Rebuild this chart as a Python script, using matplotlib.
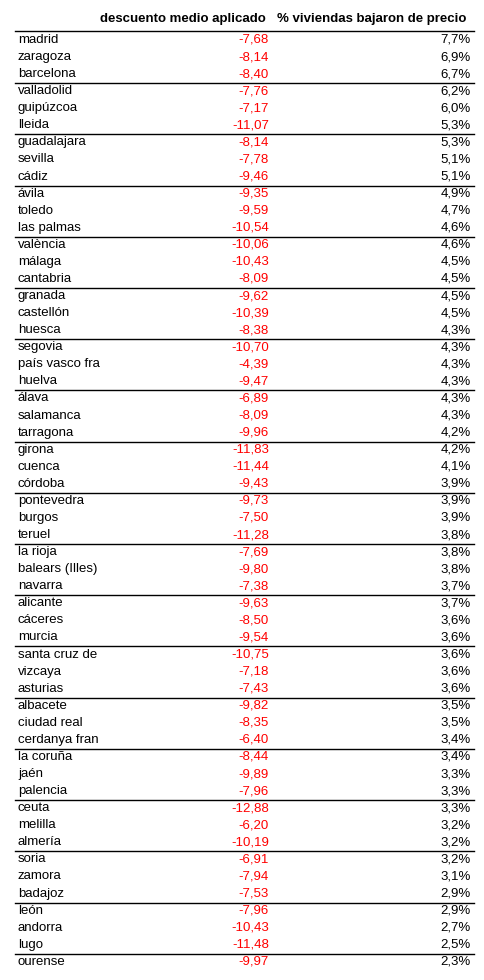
import matplotlib
matplotlib.use('Agg')
from matplotlib import pyplot as plt
from matplotlib.lines import Line2D

plt.rc('font', family='Liberation Sans')

provincias = ['madrid', 'zaragoza', 'barcelona', 'valladolid', 'guipúzcoa', 'lleida',
              'guadalajara', 'sevilla', 'cádiz', 'ávila', 'toledo', 'las palmas',
              'valència', 'málaga', 'cantabria', 'granada', 'castellón', 'huesca',
              'segovia', 'país vasco fra', 'huelva', 'álava', 'salamanca', 'tarragona',
              'girona', 'cuenca', 'córdoba', 'pontevedra', 'burgos', 'teruel',
              'la rioja', 'balears (Illes)', 'navarra', 'alicante', 'cáceres', 'murcia',
              'santa cruz de', 'vizcaya', 'asturias', 'albacete', 'ciudad real', 'cerdanya fran',
              'la coruña', 'jaén', 'palencia', 'ceuta', 'melilla', 'almería',
              'soria', 'zamora', 'badajoz', 'león', 'andorra', 'lugo', 'ourense']
descuento = ['-7,68', '-8,14', '-8,40', '-7,76', '-7,17', '-11,07',
             '-8,14', '-7,78', '-9,46', '-9,35', '-9,59', '-10,54',
             '-10,06', '-10,43', '-8,09', '-9,62', '-10,39', '-8,38',
             '-10,70', '-4,39', '-9,47', '-6,89', '-8,09', '-9,96',
             '-11,83', '-11,44', '-9,43', '-9,73', '-7,50', '-11,28',
             '-7,69', '-9,80', '-7,38', '-9,63', '-8,50', '-9,54',
             '-10,75', '-7,18', '-7,43', '-9,82', '-8,35', '-6,40',
             '-8,44', '-9,89', '-7,96', '-12,88', '-6,20', '-10,19',
             '-6,91', '-7,94', '-7,53', '-7,96', '-10,43', '-11,48', '-9,97']
bajaron = ['7,7%', '6,9%', '6,7%', '6,2%', '6,0%', '5,3%',
           '5,3%', '5,1%', '5,1%', '4,9%', '4,7%', '4,6%',
           '4,6%', '4,5%', '4,5%', '4,5%', '4,5%', '4,3%',
           '4,3%', '4,3%', '4,3%', '4,3%', '4,3%', '4,2%',
           '4,2%', '4,1%', '3,9%', '3,9%', '3,9%', '3,8%',
           '3,8%', '3,8%', '3,7%', '3,7%', '3,6%', '3,6%',
           '3,6%', '3,6%', '3,6%', '3,5%', '3,5%', '3,4%',
           '3,4%', '3,3%', '3,3%', '3,3%', '3,2%', '3,2%',
           '3,2%', '3,1%', '2,9%', '2,9%', '2,7%', '2,5%', '2,3%']
cabecera = ['descuento medio aplicado', '% viviendas bajaron de precio']

W, H = 485, 980
fig = plt.figure(figsize=(W / 100, H / 100), dpi=100)
ax = fig.add_axes([0, 0, 1, 1])
ax.set_xlim(0, W)
ax.set_ylim(H, 0)
ax.axis('off')

fs = 9.5
ax.text(266, 19, cabecera[0], ha='right', va='center', fontsize=fs, fontweight='bold')
ax.text(466, 19, cabecera[1], ha='right', va='center', fontsize=fs, fontweight='bold')
ax.add_line(Line2D([15, 474], [31, 31], color='black', lw=1))

y0, dy = 40, 17.07
for i, (p, d, b) in enumerate(zip(provincias, descuento, bajaron)):
    y = y0 + i * dy
    ax.text(18, y, p, ha='left', va='center', fontsize=fs)
    ax.text(269, y, d, ha='right', va='center', fontsize=fs, color='red')
    ax.text(471, y, b, ha='right', va='center', fontsize=fs)
    if i % 3 == 2 and i < len(provincias) - 1:
        yl = y + dy / 2 + 0.5
        ax.add_line(Line2D([15, 474], [yl, yl], color='black', lw=1))

fig.savefig('out.png', dpi=100)
